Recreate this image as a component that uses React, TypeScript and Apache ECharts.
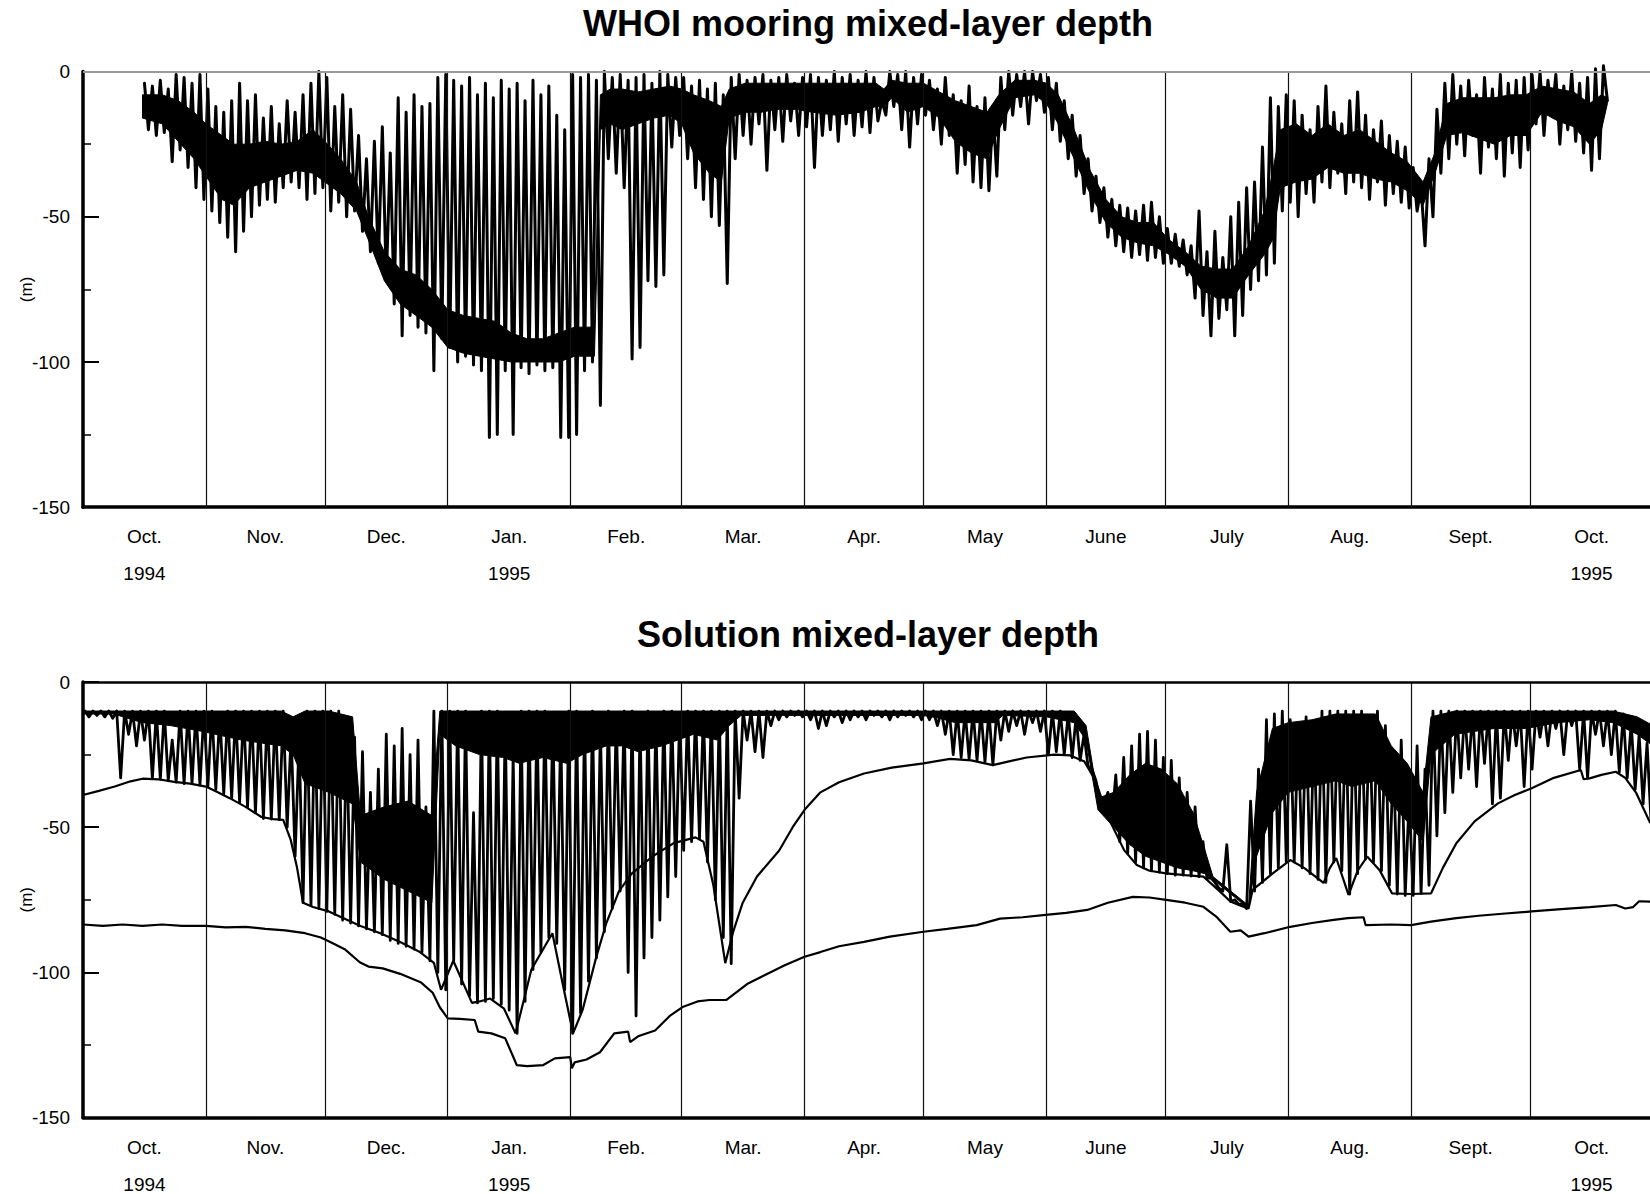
import React, { useEffect, useRef } from "react";
import * as echarts from "echarts";

// ---- axis / calendar (days since 1 Oct 1994) ----
const xMin = 0;
const xMax = 396;
const monthStarts = [31, 61, 92, 123, 151, 182, 212, 243, 273, 304, 335, 365];
const monthMid = [15.5, 46, 76.5, 107.5, 137, 166.5, 197, 227.5, 258, 288.5, 319.5, 350, 380.5];
const monthNames = ["Oct.", "Nov.", "Dec.", "Jan.", "Feb.", "Mar.", "Apr.", "May", "June", "July", "Aug.", "Sept.", "Oct."];
const yearLabels = ["1994", "", "", "1995", "", "", "", "", "", "", "", "", "1995"];
const titles = ["WHOI mooring mixed-layer depth", "Solution mixed-layer depth"];

// ---- WHOI mooring: 2-day bins starting day 15 (shallowest / deepest spike in each bin) ----
const whoiStart = 15;
const binDays = 2;
const whoiShallow = [
  -4, -5, -3, -6, -1, -2, -4, -1,
  -6, -12, -14, -10, -4, -10, -8, -16, -12, -18, -10, -14, -8, -4, 0,
  -2, -12, -8, -13, -22, -30, -24, -19, -28, -9, -14, -8, -12, -11, -2, -1,
  -3, -5, -2, -8, -4, -9, -3, -6, -4, -10, -3, -8, -5, -15, -20,
  -1, -2, -1, -3, 0, -2, -1, -3, -2, -1, -4, 0, -1, -2,
  -2, -5, -3, -6, -4, -8, -2, -1, -3, -2, -1, -3, -2, -1, -4, -2,
  -1, -2, -3, 0, -2, -1, -3, 0, -2, -10, 0, -1, 0, -2, -1,
  -3, -6, -2, -8, -10, -5, -12, -9, -13, -2, 0, -1, 0, 0, -1,
  -2, -4, -10, -15, -22, -30, -36, -40, -44, -46, -47, -48, -46, -45, -50,
  -54, -56, -58, -60, -48, -62, -55, -64, -50, -45, -40, -38, -26, -9, -12, -8,
  -10, -15, -20, -12, -5, -14, -18, -10, -7, -15, -20, -17, -22, -24, -26,
  -33, -40, -30, -13, -4, -1, -5, -3, -8, -2, -6, -1, -4, -3, -2,
  -1, 0, -3, -1, -5, 0, -4, -2, 1, 2,
];
const whoiDeep = [
  -20, -22, -21, -31, -27, -33, -40, -44,
  -48, -52, -57, -62, -55, -50, -46, -44, -45, -40, -38, -40, -44, -42, -40,
  -48, -45, -50, -48, -55, -62, -66, -72, -80, -91, -84, -88, -90, -103, -92, -95,
  -100, -98, -101, -103, -126, -125, -103, -125, -102, -104, -101, -103, -102, -126, -126,
  -125, -103, -100, -115, -30, -35, -40, -99, -95, -72, -74, -70, -26, -22,
  -30, -40, -44, -50, -53, -73, -30, -22, -25, -18, -34, -20, -24, -17, -22, -19,
  -33, -22, -20, -24, -18, -22, -19, -21, -17, -15, -12, -20, -26, -18, -15,
  -20, -25, -22, -35, -32, -38, -40, -41, -36, -20, -15, -12, -18, -10, -14,
  -20, -24, -30, -36, -42, -48, -52, -57, -60, -62, -64, -63, -65, -64, -66,
  -66, -67, -70, -78, -84, -91, -85, -82, -91, -84, -75, -72, -70, -66, -48, -45,
  -50, -42, -45, -38, -40, -35, -42, -38, -40, -44, -38, -46, -42, -45, -47,
  -48, -60, -50, -35, -30, -25, -29, -22, -35, -26, -30, -36, -28, -33, -27,
  -18, -22, -15, -25, -20, -24, -28, -34, -30, -10,
];
// WHOI: densest (solid black) part of the record
const whoiCoreDays = [
  15, 20, 24, 28, 31, 35, 38, 42, 46, 50, 54, 58, 61, 65, 69, 72, 76, 80, 84, 88,
  92, 96, 100, 104, 108, 112, 116, 120, 124, 129, 130.5, 133, 136, 140, 144, 148, 151, 154, 158, 161,
  163, 167, 171, 175, 180, 184, 190, 196, 200, 202, 204, 208, 212, 216, 220, 224, 228, 231, 235, 240,
  243, 246, 250, 254, 258, 262, 266, 270, 274, 278, 282, 286, 290, 294, 298, 300, 302, 306, 310, 314,
  318, 322, 326, 330, 334, 338, 341, 344, 348, 352, 356, 360, 364, 368, 372, 376, 380, 383, 384.5,
];
const whoiCoreTop = [
  -8, -8, -10, -14, -18, -22, -25, -25, -24, -25,
  -24, -20, -24, -30, -38, -50, -62, -68, -70, -75,
  -82, -84, -85, -86, -90, -92, -92, -90, -88, -88,
  -8, -6, -6, -7, -6, -5, -6, -8, -10, -12,
  -6, -4, -4, -4, -4, -4, -4, -4, -4, -6,
  -3, -4, -4, -7, -10, -12, -14, -8, -3, -3,
  -4, -8, -20, -34, -44, -50, -52, -52, -58, -62,
  -67, -68, -68, -60, -48, -35, -20, -18, -22, -18,
  -22, -20, -24, -28, -31, -38, -28, -11, -9, -9,
  -9, -8, -8, -5, -6, -7, -11, -8, -9,
];
const whoiCoreBottom = [
  -16, -18, -24, -30, -36, -44, -46, -40, -38, -36,
  -34, -35, -38, -42, -48, -58, -72, -80, -84, -88,
  -95, -97, -98, -99, -100, -100, -100, -100, -98, -98,
  -20, -18, -20, -18, -16, -15, -18, -28, -35, -38,
  -16, -14, -14, -13, -13, -14, -15, -14, -12, -12,
  -9, -14, -12, -16, -24, -28, -30, -20, -9, -8,
  -11, -18, -30, -42, -52, -57, -59, -60, -63, -67,
  -75, -78, -78, -70, -63, -58, -40, -38, -37, -33,
  -35, -35, -37, -38, -41, -46, -35, -22, -21, -23,
  -25, -22, -22, -14, -17, -19, -25, -20, -11,
];

// ---- Solution: 2-day bins starting day 0 ----
const solStart = 0;
const solShallow = [
  -10, -10, -10, -10, -10, -10, -10, -10, -10, -10, -10, -20, -10, -10, -10, -10,
  -10, -11, -10, -10, -10, -10, -10, -10, -10, -10, -18, -20, -10, -10, -10, -10, -10, -17, -19,
  -24, -38, -30, -18, -22, -16, -25, -20, -43, -10, -10,
  -10, -10, -10, -45, -10, -10, -10, -12, -25, -10, -10, -10, -10, -12, -15, -10,
  -10, -12, -10, -15, -10, -12, -10, -10, -12, -10, -12, -10, -10, -11,
  -10, -10, -10, -10, -10, -10, -10, -10, -10, -10, -10, -10, -10, -10, -10,
  -10, -10, -10, -10, -10, -10, -10, -10, -10, -10, -10, -10, -10, -10, -10,
  -10, -10, -10, -10, -10, -10, -10, -10, -10, -10, -10, -10, -10, -10, -10,
  -10, -10, -10, -11, -12, -18, -30, -41, -38, -32, -26, -22, -18, -17, -20,
  -26, -27, -33, -38, -43, -55, -67.5, -71, -56, -75, -76.5, -41, -30, -13, -11, -10,
  -13, -15, -12, -16, -10, -10, -10, -10, -10, -10, -12, -10, -15, -25, -20,
  -40, -22, -30, -10, -10, -10, -10, -10, -10, -10, -10, -10, -10, -10, -10,
  -10, -10, -10, -10, -10, -10, -10, -10, -10, -10, -10, -10, -11, -14, -18, -21,
];
const solDeep = [
  -12, -11.5, -12, -12.5, -33, -18, -22, -20, -33.3, -33.5, -34, -34.5, -35, -35, -35.5, -36,
  -37, -38.5, -40, -41.5, -43, -45, -47, -47.2, -47.4, -50, -60, -76, -77, -78, -79, -80, -82, -83, -84,
  -85, -86, -87, -89, -90, -91, -92, -93, -96, -100, -106,
  -96, -104, -108, -110.5, -110, -109, -111, -113, -121, -110, -99, -93, -88, -90, -106, -121,
  -114, -103, -95, -86, -78, -72, -100, -115, -95, -88, -82, -74, -67, -58,
  -55, -54, -62, -75, -88, -97, -40, -20, -24, -26, -15, -13, -12, -11.5, -12,
  -13, -16, -15, -12, -14, -13, -12, -13, -11.5, -12, -13, -12, -11.5, -12, -13,
  -13, -15, -18, -25, -26, -26.5, -27, -27.5, -28.5, -20, -17, -15, -18, -14, -17,
  -25, -24, -25, -26, -27, -29, -34, -42, -48, -55, -59, -62, -64, -65, -65.5,
  -66, -66.5, -66.5, -66.8, -67, -67.5, -69, -72, -75.6, -76.5, -78, -72, -69, -66, -64, -62,
  -62, -64, -66, -68, -69, -62, -65, -73, -66, -61, -62, -65, -70, -73, -73.5,
  -73.5, -72.8, -70, -53, -45, -38, -33, -30, -36, -28, -42, -40, -27, -22, -36,
  -30, -19, -22, -16, -25, -15, -30, -33, -18, -22, -25, -31, -33, -37, -42, -48,
];
// Solution: densest (solid black) part of the diurnal record
const solCoreDays = [
  0, 8, 10, 15, 22, 30, 40, 50, 53, 56, 62, 68, 70, 76, 82, 88, 90, 94, 100, 106,
  110, 116, 122, 126, 132, 136, 140, 146, 150, 154, 160, 163, 166, 212, 216, 220, 230, 232, 243, 250,
  253, 256, 260, 264, 268, 272, 276, 280, 283, 285, 294, 296, 300, 304, 310, 316, 320, 326, 330, 334,
  338, 340, 346, 356, 364, 372, 380, 386, 392, 396,
];
const solCoreTop = [
  -10, -10, -10, -10, -10, -10, -10, -10, -12, -10, -10, -12,
  -46, -43, -41, -46,
  -10, -10, -10, -10, -10, -10, -10, -10, -10, -10, -10, -10,
  -10, -10, -10, -10, -10, -10, -10, -10, -10, -10, -10, -10,
  -15, -40, -38, -32, -28, -30, -35, -45, -58, -67,
  -77, -38, -16, -14, -13, -11, -11, -11, -22, -28,
  -38, -12, -10, -10, -10, -10, -10, -10, -12, -15,
];
const solCoreBottom = [
  -11, -11, -12, -14, -15, -17, -20, -22, -25, -35,
  -38, -42, -62, -68, -72, -76, -18, -22, -25, -26,
  -28, -26, -28, -25, -22, -22, -24, -22, -20, -18,
  -20, -15, -11.5, -11.5, -12.5, -14, -14, -11.5, -12, -14,
  -20, -44, -50, -56, -60, -62, -64, -65, -66, -68,
  -78, -60, -45, -38, -36, -34, -36, -34, -42, -48,
  -55, -25, -18, -16, -16, -14, -13, -14, -18, -22,
];

// ---- Solution: middle (seasonal) curve ----
const midDays = [
  0, 4, 8, 12, 15, 19, 23, 27, 31, 34, 37, 41, 45, 48, 50.5, 52.4, 54, 55.5, 58, 62, 66, 70, 75, 80, 85, 88.5,
  90.3, 93.4, 98.1, 100, 102.7, 106.2, 109.1, 113.1, 118.4, 121.3, 123.6, 126, 129.4, 132, 135.2, 138.4, 143.7,
  149, 154.5, 156.5, 159, 162, 164, 166.4, 170, 175.6, 179, 182, 186, 190.7, 197, 204, 212, 218.7, 224, 229.5,
  233, 238, 245, 249, 252.6, 255.3, 258.5, 262.6, 265.8, 269, 273.2, 278, 282.6, 286.8, 289.4, 292, 294, 295,
  300, 304.5, 308, 312.9, 314.5, 316.1, 319.2, 321.5, 323.9, 327, 330.2, 335, 340, 343, 346.4, 351, 356.9, 361,
  365.4, 371, 377.8, 378.5, 380, 383, 386.6, 389, 391.8, 395.3,
];
const midDepth = [
  -38.9, -37.5, -36, -34.2, -33.3, -33.5, -34.4, -35, -36, -38, -40, -43, -46.5, -47.2, -47.5, -54.4, -64, -76,
  -77.5, -79, -81.5, -84, -86.5, -89.5, -93, -96.7,
  -106, -96, -110.5, -110, -109, -112.5, -121, -99, -86.5, -106, -121, -113, -95, -83, -72, -66, -60,
  -55.5, -53.5, -55, -70, -96.8, -86, -76, -67, -58, -50, -44, -38, -34.5, -31.5, -29.5, -28, -26.5, -27, -28.6,
  -27.5, -26, -25, -25.3, -27.4, -33.7, -46.4, -57.9, -63, -65, -65.9, -66.5, -67, -72.2, -75.6, -77, -78, -71.6,
  -66, -61.3, -64, -69.2, -64, -60.6, -73.3, -65, -60.1, -64.7, -72.8, -73, -72.8, -64, -55.5, -48, -41.8, -39,
  -36.6, -33, -30.3, -33.5, -33.2, -32, -30.9, -33, -38.3, -48.6,
];

// ---- Solution: deepest curve ----
const lowDays = [
  0, 5, 10, 15, 20, 25, 31, 36, 41, 46, 51, 56, 60, 63, 66, 69.8, 72, 75.6, 80, 85.3, 88.2, 90, 92, 95, 98.8,
  99.7, 103, 106.5, 109.4, 112, 116.1, 119, 122.9, 123.3, 124, 127, 130.4, 134, 137.5, 138, 140, 144.3, 148,
  151.4, 155, 158, 162.3, 167.5, 173.3, 177, 182, 186, 190.7, 197, 203.5, 212, 218, 225.4, 231.3, 237, 242.8,
  248, 253.3, 258.5, 264.8, 269, 273.2, 278, 282.6, 286, 289.4, 292, 294, 298, 304.5, 310, 315, 319, 323, 323.5,
  330, 335, 340, 346.4, 352, 358, 365.4, 372, 380, 386.6, 389, 391, 392.5, 395.3,
];
const lowDepth = [
  -83.5, -84, -83.5, -84, -83.5, -84, -84, -84.5, -84.3, -85, -85.5, -86.5, -88, -90, -92, -96.5, -98, -98.6,
  -100.5, -103.5, -107, -112, -115.8, -116, -116.4,
  -120.4, -121, -122.7, -131.9, -132.3, -131.9, -129.6, -129.2, -133, -131, -130, -127.5, -121, -120.4, -124,
  -122, -120, -115,
  -111.8, -110, -109.5, -109.5, -104, -100, -97.5, -94.6, -93, -91, -89.5, -87.7, -86, -85, -83.7, -81.5, -81,
  -80.2,
  -79.5, -78.5, -76, -74, -74.2, -75, -76, -77.4, -81, -86, -85.5, -87.7, -86.5, -84.3, -83, -82, -81.3, -81,
  -83.7,
  -83.5, -83.7, -82.5, -81.3, -80.5, -79.8, -79, -78.3, -77.5, -76.8, -78, -77.5, -75.5, -75.6,
];

// ---- helpers building series data from the arrays above ----
function zigzag(start: number, step: number, shallow: number[], deep: number[]) {
  const pts: number[][] = [];
  const n = Math.min(shallow.length, deep.length);
  for (let i = 0; i < n; i++) {
    const d = start + i * step;
    pts.push([d + step * 0.25, shallow[i]]);
    pts.push([d + step * 0.75, deep[i]]);
  }
  return pts;
}
function pairs(xs: number[], ys: number[]) {
  const n = Math.min(xs.length, ys.length);
  const out: number[][] = [];
  for (let i = 0; i < n; i++) out.push([xs[i], ys[i]]);
  return out;
}

const FONT = "'Liberation Sans', Arial, Helvetica, sans-serif";
const PLOT_LEFT = 83;
const PLOT_H = 435.6;
const GRID_TOPS = [71.6, 682];
const TITLE_Y = [23.5, 634];

function monthLabel(v: number) {
  let idx = 0;
  let best = Infinity;
  monthMid.forEach((m, i) => {
    const dd = Math.abs(m - v);
    if (dd < best) {
      best = dd;
      idx = i;
    }
  });
  return yearLabels[idx] ? monthNames[idx] + "\n" + yearLabels[idx] : monthNames[idx];
}

function bandSeries(axisIndex: number, days: number[], top: number[], bottom: number[], name: string) {
  const n = Math.min(days.length, top.length, bottom.length);
  return {
    type: "custom",
    name,
    xAxisIndex: axisIndex,
    yAxisIndex: axisIndex,
    silent: true,
    z: 2,
    data: [[days[0], top[0]]],
    renderItem: (params: any, api: any) => {
      if (params.dataIndex !== 0) return null;
      const points: number[][] = [];
      for (let i = 0; i < n; i++) points.push(api.coord([days[i], top[i]]));
      for (let i = n - 1; i >= 0; i--) points.push(api.coord([days[i], bottom[i]]));
      return {
        type: "polygon",
        shape: { points },
        style: { fill: "#000", stroke: "#000", lineWidth: 1 },
      };
    },
  };
}

function buildOption() {
  const grids = GRID_TOPS.map((top) => ({
    left: PLOT_LEFT,
    right: -3,
    top,
    height: PLOT_H,
    containLabel: false,
    outerBoundsMode: "none",
  }));

  const xAxes = [0, 1].map((g) => ({
    type: "value",
    gridIndex: g,
    min: xMin,
    max: xMax,
    position: "bottom",
    axisLine: { show: true, onZero: false, lineStyle: { color: "#000", width: 3.5 } },
    axisTick: { show: false },
    splitLine: { show: false },
    axisLabel: {
      show: true,
      customValues: monthMid,
      formatter: (v: number) => monthLabel(v),
      fontFamily: FONT,
      fontSize: 19,
      color: "#000",
      lineHeight: 37,
      margin: 11,
      hideOverlap: false,
    },
  }));

  const yAxes = [0, 1].map((g) => ({
    type: "value",
    gridIndex: g,
    min: -150,
    max: 0,
    interval: 50,
    axisLine: { show: true, onZero: false, lineStyle: { color: "#000", width: 3.5 } },
    axisTick: { show: true, inside: true, length: 16, lineStyle: { color: "#000", width: 2 } },
    minorTick: { show: true, splitNumber: 2, length: 8, lineStyle: { color: "#000", width: 1.5 } },
    splitLine: { show: false },
    axisLabel: { fontFamily: FONT, fontSize: 19, color: "#000", margin: 13 },
    name: "(m)",
    nameLocation: "middle",
    nameRotate: 90,
    nameGap: 48,
    nameMoveOverlap: false,
    nameTextStyle: { fontFamily: FONT, fontSize: 17, color: "#000" },
  }));

  const gridLines = (zeroColor: string, zeroWidth: number) => ({
    silent: true,
    symbol: ["none", "none"],
    label: { show: false },
    emphasis: { disabled: true },
    data: [
      ...monthStarts.map((d) => ({ xAxis: d, lineStyle: { color: "#111", width: 1.2, type: "solid" } })),
      { yAxis: 0, lineStyle: { color: zeroColor, width: zeroWidth, type: "solid" } },
    ],
  });

  const lineBase = {
    type: "line",
    showSymbol: false,
    symbol: "none",
    smooth: false,
    silent: true,
  };

  const series = [
    bandSeries(0, whoiCoreDays, whoiCoreTop, whoiCoreBottom, "WHOI core"),
    {
      ...lineBase,
      name: "WHOI",
      xAxisIndex: 0,
      yAxisIndex: 0,
      clip: false,
      data: zigzag(whoiStart, binDays, whoiShallow, whoiDeep),
      lineStyle: { color: "#000", width: 3.0, join: "round", cap: "round" },
      markLine: gridLines("#9a9a9a", 2),
      z: 3,
    },
    bandSeries(1, solCoreDays, solCoreTop, solCoreBottom, "Solution core"),
    {
      ...lineBase,
      name: "Solution",
      xAxisIndex: 1,
      yAxisIndex: 1,
      clip: true,
      data: zigzag(solStart, binDays, solShallow, solDeep),
      lineStyle: { color: "#000", width: 2.8, join: "round", cap: "round" },
      markLine: gridLines("#000", 2.5),
      z: 3,
    },
    {
      ...lineBase,
      name: "Seasonal",
      xAxisIndex: 1,
      yAxisIndex: 1,
      clip: true,
      data: pairs(midDays, midDepth),
      lineStyle: { color: "#000", width: 2.2 },
      z: 4,
    },
    {
      ...lineBase,
      name: "Deep",
      xAxisIndex: 1,
      yAxisIndex: 1,
      clip: true,
      data: pairs(lowDays, lowDepth),
      lineStyle: { color: "#000", width: 2.2 },
      z: 4,
    },
  ];

  const graphic = titles.map((t, i) => ({
    type: "text",
    x: PLOT_LEFT + 785,
    y: TITLE_Y[i],
    silent: true,
    style: {
      text: t,
      font: `bold 36px ${FONT}`,
      fill: "#000",
      textAlign: "center",
      align: "center",
      textVerticalAlign: "middle",
      verticalAlign: "middle",
    },
  }));

  return {
    animation: false,
    backgroundColor: "#fff",
    textStyle: { fontFamily: FONT },
    grid: grids,
    xAxis: xAxes,
    yAxis: yAxes,
    series,
    graphic,
    tooltip: { show: false },
  };
}

export default function App() {
  const ref = useRef<HTMLDivElement | null>(null);
  useEffect(() => {
    document.body.style.margin = "0";
    document.body.style.overflow = "hidden";
    if (!ref.current) return;
    const chart = echarts.init(ref.current, undefined, { renderer: "svg", width: 1650, height: 1194 });
    chart.setOption(buildOption() as any);
    return () => {
      chart.dispose();
    };
  }, []);
  return <div ref={ref} style={{ width: 1650, height: 1194, background: "#fff" }} />;
}
